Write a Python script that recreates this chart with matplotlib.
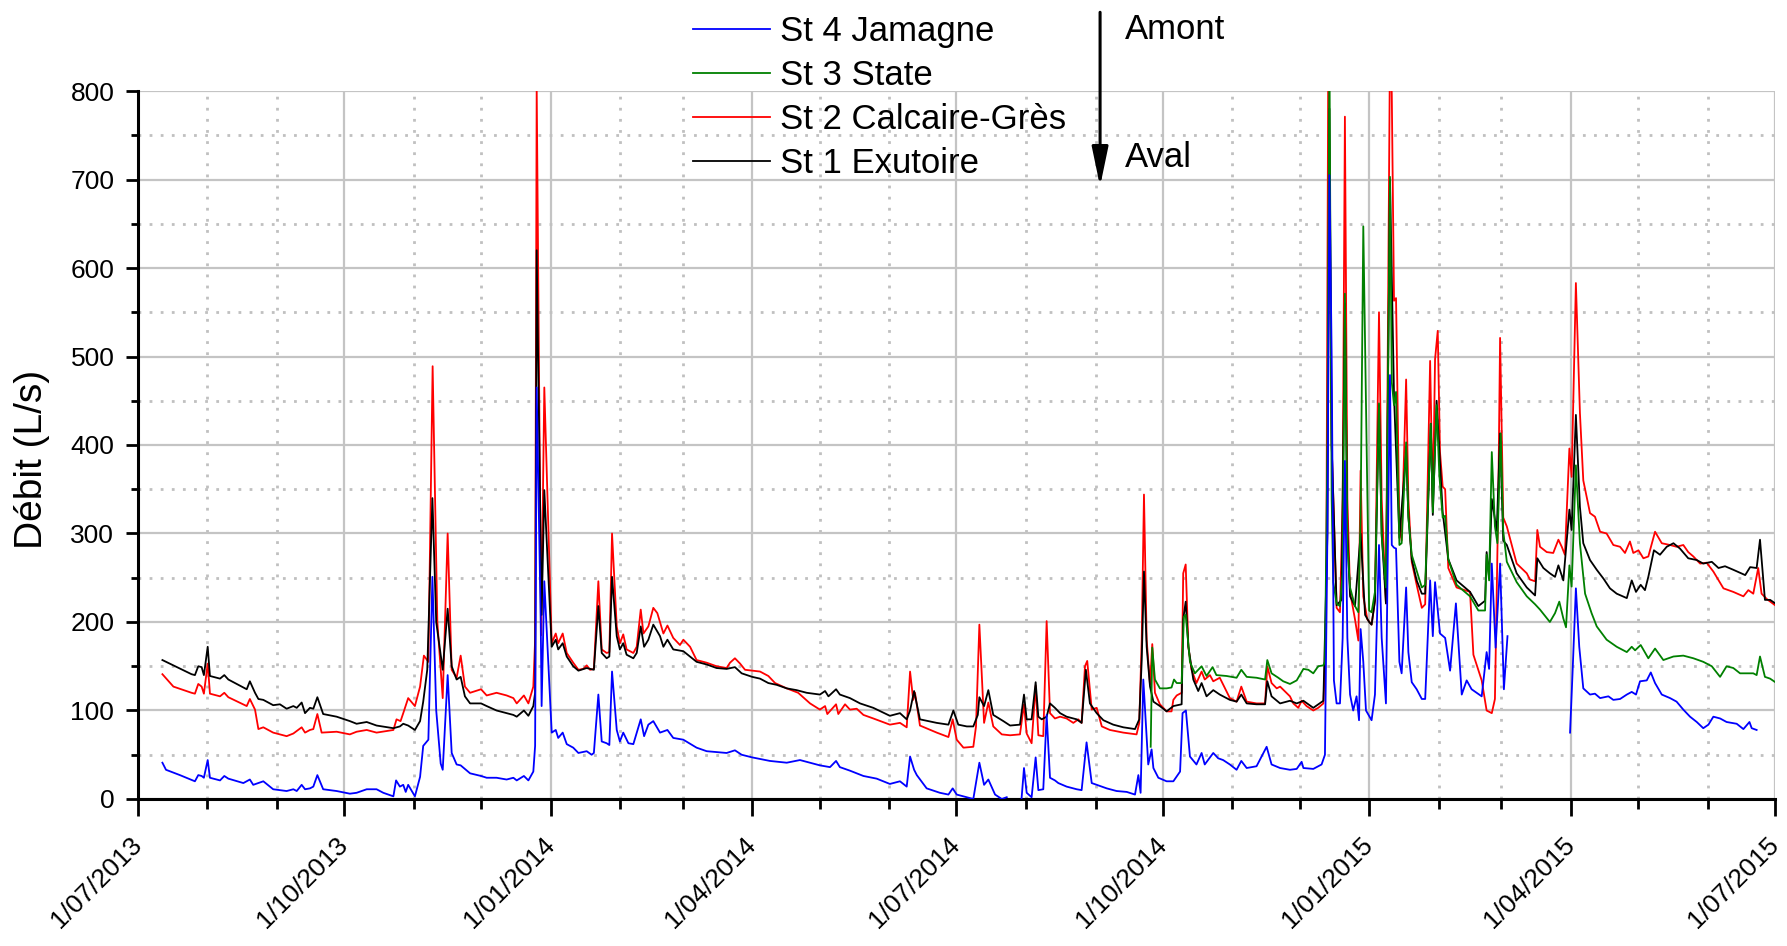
import numpy as np
import pandas as pd
import matplotlib
matplotlib.use("Agg")
from matplotlib import pyplot as plt
import matplotlib.dates as mdates
from matplotlib.ticker import MultipleLocator, FuncFormatter

nan = float("nan")

# days counted from 1/07/2013, values in L/s
st1_days = [10.9, 15.8, 23.9, 25.4, 26.9, 28.4, 29.4, 31.1, 32.1, 36.6, 38.5, 40.3, 48.5, 49.9,
            52.2, 53.7, 55.9, 60.3, 63.3, 66.3, 69.3, 70.8, 73.0, 74.5, 76.7, 78.2, 80.0, 82.6,
            88.6, 94.5, 97.5, 102.0, 106.4, 113.9, 116.8, 118.3, 120.5, 123.5, 125.8, 127.2,
            129.0, 131.3, 133.0, 135.9, 138.1, 139.9, 142.1, 143.9, 145.8, 148.1, 153.0, 155.5,
            159.9, 164.4, 167.4, 168.9, 172.1, 174.1, 176.3, 177.1, 177.8, 180.0, 181.2, 184.5,
            186.3, 187.4, 189.4, 191.2, 194.1, 196.4, 200.1, 203.3, 205.3, 206.8, 209.0, 210.2,
            211.4, 213.5, 214.9, 216.4, 217.9, 220.9, 222.4, 224.2, 225.7, 227.6, 229.8, 232.8,
            234.3, 236.1, 238.7, 243.2, 249.1, 253.6, 258.0, 262.5, 266.2, 269.2, 273.9, 277.4,
            281.1, 284.8, 289.3, 293.7, 298.2, 304.1, 306.4, 307.9, 311.3, 313.0, 317.5, 322.0,
            327.9, 335.3, 339.8, 342.8, 344.3, 346.1, 348.7, 356.2, 361.4, 363.6, 365.8, 369.6,
            372.5, 374.5, 375.2, 377.3, 379.2, 381.4, 385.9, 388.9, 393.3, 395.1, 396.3, 398.5,
            400.3, 401.5, 403.0, 405.2, 406.7, 408.9, 411.2, 414.1, 418.6, 420.8, 422.7, 424.5,
            427.5, 430.5, 434.9, 439.4, 444.6, 446.5, 447.6, 448.6, 449.8, 451.3, 452.8, 455.7,
            458.7, 461.7, 465.4, 466.1, 467.2, 468.4, 470.6, 472.8, 474.3, 476.5, 479.5, 482.4,
            486.9, 489.9, 492.0, 494.4, 498.8, 502.6, 503.6, 505.5, 509.3, 513.7, 516.7, 519.7,
            524.1, 528.6, 530.4, 531.3, 532.3, 534.5, 536.7, 538.2, 539.3, 540.5, 542.7, 545.2,
            547.2, 549.0, 550.1, 551.6, 553.4, 554.6, 556.5, 558.3, 560.1, 562.5, 565.5, 566.5,
            568.0, 570.2, 572.5, 574.0, 576.5, 577.4, 579.1, 581.8, 584.3, 588.0, 594.0, 597.7,
            600.7, 601.4, 602.5, 603.7, 605.9, 607.4, 608.8, 610.4, 614.8, 619.3, 623.0, 624.0,
            626.7, 629.6, 631.9, 633.4, 635.6, 638.3, 639.3, 641.2, 643.0, 644.5, 647.5, 650.5,
            653.5, 656.4, 659.4, 663.9, 666.1, 668.0, 670.1, 672.0, 673.5, 676.0, 678.7, 681.7,
            684.7, 687.6, 691.3, 695.1, 698.0, 701.8, 704.8, 707.7, 711.4, 716.7, 718.9, 721.8,
            723.3, 725.5, 727.8, 730.7]
st1_vals = [157, 151, 141, 140, 150, 149, 140, 172, 139, 136, 140, 135, 124, 133,
            120, 113, 112, 106, 107, 102, 105, 103, 109, 97, 103, 102, 115, 96,
            93, 88, 85, 87, 83, 80, 82, 85, 83, 78, 88, 110,
            146, 340, 200, 146, 215, 150, 135, 138, 116, 108, 108, 105,
            100, 97, 95, 93, 100, 94, 105, 120, 620, 208, 349, 172,
            180, 169, 176, 161, 150, 145, 148, 146, 218, 165, 159, 161,
            251, 184, 169, 176, 163, 159, 165, 195, 172, 180, 197, 184,
            172, 180, 169, 167, 155, 152, 148, 147, 149, 142, 138, 136,
            131, 129, 125, 123, 120, 118, 122, 116, 124, 118, 114, 108,
            103, 94, 97, 90, 100, 122, 90, 86, 84, 100, 84, 82,
            82, 95, 115, 105, 123, 95, 88, 83, 84, 118, 90, 90,
            132, 93, 90, 93, 108, 103, 97, 93, 90, 86, 146, 108,
            97, 89, 84, 81, 79, 90, 157, 257, 172, 127, 110, 105,
            99, 105, 107, 203, 223, 172, 135, 122, 131, 116, 123, 118,
            112, 110, 118, 108, 107, 107, 133, 116, 108, 111, 108, 111,
            103, 111, 300, 780, 400, 219, 225, 560, 300, 229, 218, 300,
            208, 200, 197, 224, 445, 300, 221, 700, 455, 295, 392, 320,
            271, 247, 232, 232, 424, 321, 450, 324, 271, 247, 234, 218,
            224, 279, 250, 339, 303, 413, 292, 287, 255, 239, 230, 272,
            261, 255, 251, 264, 247, 327, 304, 434, 330, 289, 270, 259,
            249, 238, 232, 227, 247, 234, 242, 236, 251, 281, 276, 285,
            289, 283, 272, 270, 266, 268, 261, 263, 259, 253, 262, 261,
            293, 225, 225, 220]

st2_days = [10.9, 15.8, 23.9, 25.4, 26.9, 28.4, 29.4, 31.1, 32.1, 36.6, 38.5, 40.3, 48.5, 49.9,
            52.2, 53.7, 55.9, 60.3, 66.3, 69.3, 73.0, 74.5, 76.7, 78.2, 80.0, 81.9, 88.6, 94.5,
            97.5, 102.0, 106.4, 113.9, 115.3, 117.1, 118.3, 120.5, 123.5, 125.8, 127.5, 129.5,
            131.4, 133.5, 135.9, 138.1, 139.9, 142.1, 143.9, 145.8, 148.1, 153.0, 155.5, 159.9,
            164.4, 167.4, 168.9, 172.1, 174.1, 176.3, 177.1, 177.8, 179.8, 181.2, 184.5, 186.3,
            187.4, 189.4, 191.2, 194.1, 196.4, 198.6, 200.1, 201.6, 203.3, 205.3, 206.8, 209.0,
            210.2, 211.4, 213.5, 214.9, 216.4, 217.9, 220.9, 222.4, 224.2, 225.4, 227.6, 229.8,
            231.6, 234.3, 236.1, 238.7, 241.7, 243.2, 246.2, 249.1, 253.6, 258.0, 262.5, 264.0,
            266.2, 268.5, 270.7, 273.9, 277.4, 281.1, 284.1, 289.3, 294.4, 299.7, 304.1, 306.4,
            307.4, 311.3, 312.3, 315.3, 317.5, 320.5, 323.5, 327.9, 335.3, 339.8, 342.8, 344.3,
            345.7, 346.5, 348.7, 356.2, 361.4, 363.3, 365.1, 368.1, 372.5, 373.7, 375.2, 377.3,
            379.2, 381.4, 385.2, 388.9, 393.3, 395.1, 396.3, 398.5, 400.3, 401.5, 403.7, 405.2,
            406.7, 408.9, 411.2, 414.1, 417.1, 419.3, 420.8, 422.3, 423.3, 425.3, 427.5, 429.8,
            433.4, 439.4, 445.3, 446.5, 447.6, 448.6, 449.8, 451.3, 452.3, 453.5, 455.7, 458.7,
            460.9, 461.7, 463.2, 465.4, 466.1, 467.2, 468.4, 469.8, 472.0, 474.3, 475.7, 478.0,
            479.5, 482.4, 486.9, 489.9, 492.0, 494.4, 498.8, 502.6, 503.6, 505.5, 507.8, 509.3,
            513.7, 515.2, 517.4, 518.9, 521.1, 524.1, 526.3, 528.6, 529.8, 530.8, 532.3, 534.5,
            536.0, 537.2, 538.2, 539.3, 540.5, 542.7, 544.2, 545.2, 546.4, 548.2, 550.1, 551.6,
            553.4, 554.6, 556.5, 558.3, 559.1, 560.1, 561.0, 562.5, 563.5, 565.5, 566.5, 568.0,
            570.2, 572.5, 574.0, 576.2, 577.4, 578.4, 579.6, 580.6, 581.8, 582.9, 584.3, 588.0,
            594.0, 595.5, 599.2, 601.4, 603.7, 605.1, 606.6, 607.4, 608.8, 610.4, 614.8, 619.3,
            620.7, 623.0, 624.0, 625.2, 628.2, 631.1, 633.4, 634.9, 636.3, 638.3, 639.3, 641.2,
            643.0, 644.5, 647.5, 649.7, 652.0, 654.9, 657.9, 660.9, 663.1, 665.3, 666.8, 669.1,
            671.3, 673.5, 676.5, 679.5, 683.2, 686.1, 689.1, 691.3, 693.6, 696.6, 699.5, 702.5,
            707.0, 711.4, 715.9, 718.1, 720.3, 722.5, 724.0, 726.3, 730.0]
st2_vals = [141, 127, 120, 119, 130, 127, 119, 153, 119, 116, 120, 115, 105, 113,
            101, 79, 81, 75, 71, 74, 81, 75, 78, 79, 96, 75, 76, 73,
            76, 78, 75, 78, 90, 88, 97, 114, 105, 127, 162, 155,
            489, 200, 114, 300, 146, 137, 162, 127, 120, 124, 117, 120,
            117, 114, 108, 117, 108, 127, 180, 805, 185, 465, 176, 187,
            176, 187, 165, 154, 146, 147, 151, 146, 147, 246, 169, 165,
            166, 300, 195, 176, 186, 169, 165, 172, 214, 187, 195, 216,
            210, 187, 196, 182, 174, 180, 172, 157, 154, 150, 148, 154,
            159, 153, 146, 145, 144, 139, 131, 125, 120, 108, 101, 105,
            96, 107, 96, 107, 101, 102, 95, 91, 84, 86, 81, 144,
            112, 120, 83, 75, 70, 90, 67, 58, 59, 82, 197, 86,
            109, 82, 73, 72, 73, 107, 74, 63, 128, 72, 71, 201,
            97, 91, 93, 91, 86, 90, 86, 150, 156, 101, 103, 82,
            78, 75, 73, 86, 180, 344, 180, 129, 175, 120, 107, 99,
            99, 112, 117, 120, 255, 265, 172, 146, 131, 144, 135, 140,
            133, 137, 114, 110, 127, 110, 108, 108, 150, 131, 125, 127,
            116, 108, 103, 111, 105, 100, 103, 108, 182, 850, 400, 216,
            211, 339, 771, 339, 234, 203, 179, 371, 229, 203, 197, 224,
            550, 339, 221, 850, 797, 563, 566, 308, 292, 474, 339, 268,
            242, 216, 220, 495, 330, 497, 529, 392, 353, 350, 261, 239,
            234, 163, 134, 100, 97, 113, 339, 521, 318, 308, 266, 255,
            248, 246, 304, 285, 279, 278, 293, 285, 276, 396, 364, 583,
            436, 360, 323, 319, 302, 300, 287, 285, 278, 291, 278, 281,
            272, 274, 302, 289, 287, 285, 287, 279, 274, 266, 267, 257,
            238, 234, 229, 236, 232, 261, 232, 226, 219]

st3_days = [451.6, 452.3, 453.5, 455.7, 458.7, 460.9, 462.0, 463.2, 465.4, 466.4, 467.2, 469.1,
            471.3, 474.3, 476.5, 479.2, 480.9, 485.4, 489.9, 492.0, 494.4, 498.8, 502.6, 503.6,
            505.5, 508.5, 510.7, 513.7, 516.7, 519.7, 521.9, 524.1, 526.3, 528.6, 529.3, 530.4,
            531.3, 532.3, 533.0, 534.5, 536.0, 537.2, 538.2, 539.3, 540.5, 542.7, 544.2, 545.2,
            546.4, 547.9, 549.0, 550.1, 551.6, 553.4, 554.6, 556.5, 558.3, 559.1, 560.1, 561.0,
            562.5, 563.5, 565.5, 566.5, 568.0, 570.2, 572.5, 574.0, 576.5, 577.4, 579.1, 580.3,
            581.8, 582.9, 584.3, 588.0, 594.0, 597.7, 600.7, 601.4, 602.5, 603.7, 605.1, 606.2,
            607.7, 608.8, 610.4, 614.8, 619.3, 623.0, 625.2, 629.6, 631.9, 633.8, 635.6, 636.8,
            638.3, 639.3, 641.2, 643.0, 645.3, 648.2, 650.5, 654.9, 659.4, 663.9, 666.1, 667.6,
            670.1, 673.5, 676.5, 680.2, 684.7, 689.1, 693.6, 698.0, 701.8, 705.5, 708.4, 711.4,
            714.4, 717.4, 720.3, 721.8, 723.3, 725.5, 727.8, 730.7]
st3_vals = [59, 171, 135, 125, 125, 126, 135, 131, 131, 206, 208, 155,
            142, 150, 139, 149, 140, 139, 137, 146, 138, 137, 135, 157,
            142, 137, 133, 130, 134, 147, 146, 142, 150, 151, 155, 400,
            850, 339, 245, 221, 218, 255, 571, 287, 239, 218, 211, 318,
            647, 392, 213, 211, 234, 447, 297, 239, 703, 471, 445, 460,
            287, 289, 403, 318, 276, 258, 239, 242, 424, 324, 445, 366,
            318, 320, 271, 242, 229, 213, 213, 276, 247, 392, 308, 289,
            413, 303, 268, 245, 229, 220, 214, 200, 210, 223, 204, 194,
            264, 240, 377, 289, 232, 210, 195, 180, 172, 166, 172, 168,
            174, 159, 170, 157, 161, 162, 159, 155, 150, 138, 150, 148,
            142, 142, 142, 140, 161, 138, 136, 131]

st4_days = [10.9, 12.5, 18.7, 25.4, 26.9, 28.4, 29.4, 31.1, 32.1, 36.6, 38.5, 40.3, 47.0, 49.9,
            51.4, 55.9, 60.3, 66.3, 69.3, 70.8, 73.0, 74.5, 76.7, 78.2, 80.0, 82.6, 88.6, 94.5,
            97.5, 102.0, 106.4, 109.4, 113.9, 115.1, 116.8, 118.3, 119.4, 120.5, 123.5, 125.8,
            127.2, 129.5, 131.3, 133.0, 135.0, 135.9, 138.1, 139.9, 142.1, 143.9, 148.1, 153.0,
            155.5, 159.9, 164.4, 167.4, 168.9, 172.1, 174.1, 176.3, 177.1, 177.8, 179.6, 180.0,
            181.2, 184.5, 186.3, 187.4, 189.4, 191.2, 194.1, 196.4, 200.1, 202.3, 203.3, 205.3,
            206.8, 209.0, 210.2, 211.4, 213.5, 214.9, 216.4, 218.7, 220.9, 224.2, 225.7, 227.6,
            229.8, 232.8, 236.1, 238.7, 243.2, 249.1, 253.6, 258.0, 262.5, 266.2, 269.2, 273.9,
            281.8, 289.3, 295.2, 304.1, 308.6, 311.3, 313.0, 317.5, 323.5, 329.4, 335.3, 339.8,
            342.8, 344.3, 346.1, 347.3, 351.7, 357.6, 361.4, 363.3, 365.1, 372.5, 375.2, 377.3,
            379.2, 382.2, 385.2, 387.4, 390.0, 394.0, 395.1, 396.3, 398.5, 400.3, 401.5, 403.7,
            405.2, 406.7, 408.9, 410.4, 414.1, 418.6, 420.8, 423.0, 425.3, 427.5, 432.0, 436.4,
            440.9, 444.6, 446.1, 447.1, 448.3, 450.5, 452.0, 452.8, 455.0, 458.7, 461.7, 464.7,
            465.8, 467.3, 469.1, 472.0, 474.3, 475.7, 479.5, 481.7, 483.9, 486.9, 489.9, 492.0,
            494.4, 498.8, 503.3, 505.5, 509.3, 513.7, 516.7, 518.9, 519.7, 524.1, 527.8, 529.3,
            530.4, 531.3, 532.3, 533.3, 534.5, 536.0, 537.2, 538.2, 539.3, 540.5, 541.9, 543.4,
            544.5, 545.2, 546.4, 547.6, 550.1, 551.6, 553.4, 554.6, 556.5, 558.3, 559.1, 560.1,
            561.0, 562.5, 563.5, 565.5, 566.5, 568.0, 570.2, 572.5, 574.0, 576.2, 577.4, 578.4,
            580.6, 582.9, 585.1, 587.7, 590.3, 592.5, 594.7, 599.2, 601.4, 602.5, 603.7, 605.4,
            607.4, 609.1, 610.7, 625.0, 638.6, 639.7, 641.2, 642.7, 644.5, 647.5, 649.7, 652.0,
            655.7, 657.9, 660.9, 663.9, 666.1, 668.0, 669.8, 672.8, 674.6, 676.5, 679.5, 683.2,
            686.1, 689.1, 692.1, 695.1, 698.0, 700.3, 702.5, 705.5, 708.4, 712.9, 715.9, 718.6,
            719.6, 721.8]
st4_vals = [41, 33, 27, 20, 27, 26, 24, 44, 24, 21, 26, 23, 18, 22,
            16, 20, 11, 9, 11, 9, 16, 11, 12, 14, 27, 11, 9, 6,
            7, 11, 11, 7, 3, 21, 14, 16, 8, 16, 3, 25,
            60, 67, 251, 100, 40, 33, 140, 52, 39, 38, 29, 26,
            24, 24, 22, 24, 21, 26, 21, 31, 60, 465, 200, 105,
            246, 75, 78, 69, 75, 62, 58, 52, 54, 50, 52, 118,
            65, 63, 61, 144, 78, 65, 75, 63, 62, 90, 71, 84,
            88, 75, 78, 69, 67, 58, 54, 53, 52, 55, 50, 47,
            43, 41, 44, 38, 36, 43, 36, 32, 26, 23, 17, 20,
            14, 48, 33, 27, 12, 7, 5, 12, 5, 0, 41, 16,
            22, 5, 0, 2, nan, 0, 35, 7, 2, 47, 10, 11,
            95, 24, 21, 18, 14, 11, 10, 64, 18, 16, 12, 9,
            8, 5, 27, 7, 135, 39, 56, 35, 24, 20, 20, 31,
            97, 100, 48, 39, 52, 39, 52, 46, 44, 39, 33, 43,
            35, 37, 59, 39, 35, 33, 34, 42, 35, 34, 39, 50,
            300, 705, 500, 134, 108, 108, 182, 382, 182, 118, 100, 116,
            89, 192, 155, 100, 89, 118, 287, 182, 108, 479, 287, 284,
            283, 155, 142, 239, 166, 132, 124, 113, 113, 247, 184, 245,
            187, 182, 145, 221, 118, 134, 124, 116, 166, 147, 266, 171,
            266, 124, 184, nan, 75, 142, 238, 172, 125, 118, 119, 114,
            116, 112, 113, 118, 121, 118, 133, 134, 143, 131, 118, 114,
            110, 101, 93, 87, 80, 84, 93, 91, 87, 85, 79, 87,
            80, 78]

labels = ["St 4 Jamagne", "St 3 State", "St 2 Calcaire-Grès", "St 1 Exutoire"]
colors = ["#0000ff", "#008000", "#ff0000", "#000000"]

start = pd.Timestamp("2013-07-01")
end = pd.Timestamp("2015-07-01")


def to_dates(days):
    return start + pd.to_timedelta(np.asarray(days, dtype=float), unit="D")


def date_label(x, pos):
    d = mdates.num2date(x)
    return f"{d.day}/{d.month:02d}/{d.year}"


def main():
    plt.rcParams["font.family"] = ["Liberation Sans", "DejaVu Sans"]
    fig = plt.figure(figsize=(17.87, 9.46), dpi=100)
    ax = fig.add_axes([0.0772, 0.1554, 0.9161, 0.7484])

    series = [
        (st4_days, st4_vals, 5),
        (st3_days, st3_vals, 4),
        (st2_days, st2_vals, 2),
        (st1_days, st1_vals, 3),
    ]
    handles = []
    for (days, vals, z), lab, col in zip(series, labels, colors):
        (h,) = ax.plot(to_dates(days), vals, color=col, lw=1.3, label=lab, zorder=z)
        handles.append(h)

    ax.set_xlim(start, end)
    ax.set_ylim(0, 800)
    ax.xaxis.set_major_locator(mdates.MonthLocator(bymonth=[1, 4, 7, 10]))
    ax.xaxis.set_minor_locator(mdates.MonthLocator())
    ax.xaxis.set_major_formatter(FuncFormatter(date_label))
    ax.yaxis.set_major_locator(MultipleLocator(100))
    ax.yaxis.set_minor_locator(MultipleLocator(50))

    ax.grid(which="major", color="#c4c4c4", lw=1.6, ls="-", zorder=0)
    ax.grid(which="minor", color="#c0c0c0", lw=2.0, ls=(0, (1, 3)), zorder=0)
    ax.set_axisbelow(True)
    ax.yaxis.get_major_ticks()[-1].gridline.set_visible(False)

    for side in ["top", "right"]:
        ax.spines[side].set_visible(False)
    for side in ["left", "bottom"]:
        ax.spines[side].set_linewidth(2.2)

    ax.tick_params(axis="y", which="major", length=9, width=2, labelsize=19, pad=8)
    ax.tick_params(axis="y", which="minor", length=5, width=2)
    ax.tick_params(axis="x", which="major", length=12, width=2, labelsize=19, pad=18)
    ax.tick_params(axis="x", which="minor", length=7, width=2)
    for lab in ax.get_xticklabels():
        lab.set_rotation(45)
        lab.set_ha("right")
        lab.set_va("center")
        lab.set_rotation_mode("anchor")

    ax.set_ylabel("Débit (L/s)", fontsize=28)
    ax.yaxis.set_label_coords(-0.054, 0.48)

    fig.legend(handles=handles, labels=labels, loc="upper left",
               bbox_to_anchor=(0.388, 0.984), frameon=False, fontsize=25,
               handlelength=2.2, handletextpad=0.3, labelspacing=0.32,
               borderpad=0, borderaxespad=0)

    ax.annotate("", xy=(0.6156, 0.803), xytext=(0.6156, 0.987),
                xycoords="figure fraction", textcoords="figure fraction",
                arrowprops=dict(arrowstyle="-|>,head_width=0.25,head_length=1.2",
                                lw=2.2, color="k", mutation_scale=20,
                                shrinkA=0, shrinkB=0))
    fig.text(0.6295, 0.9687, "Amont", fontsize=25, va="center", ha="left")
    fig.text(0.6295, 0.833, "Aval", fontsize=25, va="center", ha="left")

    fig.savefig("out.png", dpi=100)


if __name__ == "__main__":
    main()
